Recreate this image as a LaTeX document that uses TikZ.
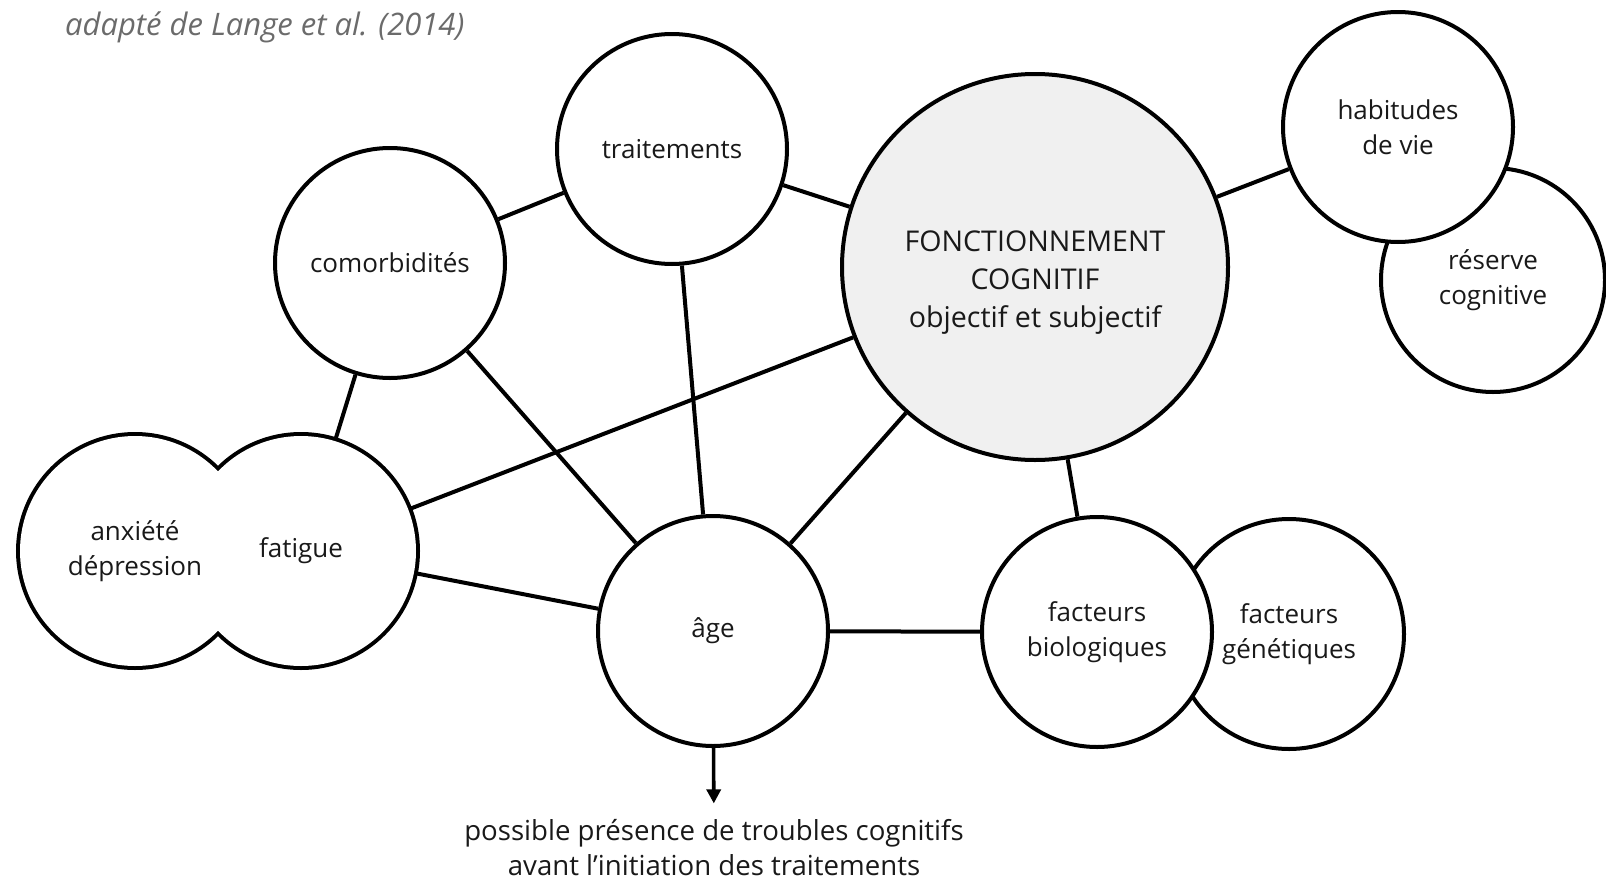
\documentclass[tikz,border=0pt]{standalone}
\usepackage{fontspec}
\setmainfont{Open Sans}
\usetikzlibrary{arrows.meta, positioning, calc, backgrounds}

\begin{document}
\begin{tikzpicture}[
  x=0.5pt, y=-0.5pt,
  every node/.style={font=\fontsize{13}{17.5}\selectfont, text=black!90},
  bubble/.style={circle, draw=black, line width=2pt, fill=white, minimum size=115pt, inner sep=0pt, align=center},
  mainbubble/.style={bubble, fill=black!6, minimum size=193pt},
  bubbletxt/.style={circle, minimum size=115pt, inner sep=0pt, align=center},
  link/.style={line width=2pt, draw=black},
  arrow/.style={-{Triangle[length=7pt, width=7pt]}, line width=1.8pt, draw=black},
  caption/.style={font=\fontsize{15.5}{18}\selectfont\itshape, text=black!58}
]
\useasboundingbox (0,0) rectangle (1606,884);

% Source
\node[caption, anchor=base west] (src) at (58,35) {adapté de Lange et al. (2014)};

% === CENTRE ===
\node[mainbubble] (fc) at (1035,267) {};
\node[font=\fontsize{14.3}{19}\selectfont, align=center] (fctxt) at (1035,283)
  {FONCTIONNEMENT\\COGNITIF\\objectif et subjectif};

% === FACTORS ===
\node[bubble] (trt) at (672,149)  {traitements};
\node[bubble] (com) at (390,263)  {comorbidités};
\node[bubble] (age) at (713,631)  {âge};
\node[bubble] (gen) at (1289,634) {facteurs\\génétiques};
\node[bubble] (bio) at (1097,632) {facteurs\\biologiques};
\node[bubble, minimum size=112pt] (res) at (1493,280) {réserve\\cognitive};
\node[bubble] (hab) at (1398,127) {habitudes\\de vie};

% anxiety / fatigue drawn as one outline
\node[bubbletxt] (anx) at (135,551) {anxiété\\dépression};
\node[bubbletxt] (fat) at (301,551) {fatigue};

% Outcome
\node[font=\fontsize{13.8}{17.5}\selectfont, align=center, inner sep=0pt] (out) at (714,848)
  {possible présence de troubles cognitifs\\avant l’initiation des traitements};

\begin{scope}[on background layer]
  % links
  \draw[link] (com) -- (trt);
  \draw[link] (trt) -- (fc);
  \draw[link] (fc)  -- (hab);
  \draw[link] (com) -- (fat);
  \draw[link] (com) -- (age);
  \draw[link] (trt) -- (age);
  \draw[link] (fc)  -- (fat);
  \draw[link] (fc)  -- (age);
  \draw[link] (fc)  -- (bio);
  \draw[link] (fat) -- (age);
  \draw[link] (age) -- (bio);
  % merged outline
  \draw[line width=4pt] (anx.center) circle[radius=115] (fat.center) circle[radius=115];
  \fill[white] (anx.center) circle[radius=115] (fat.center) circle[radius=115];
\end{scope}

\draw[arrow, shorten >=8pt] (age) -- (out);

\end{tikzpicture}
\end{document}
